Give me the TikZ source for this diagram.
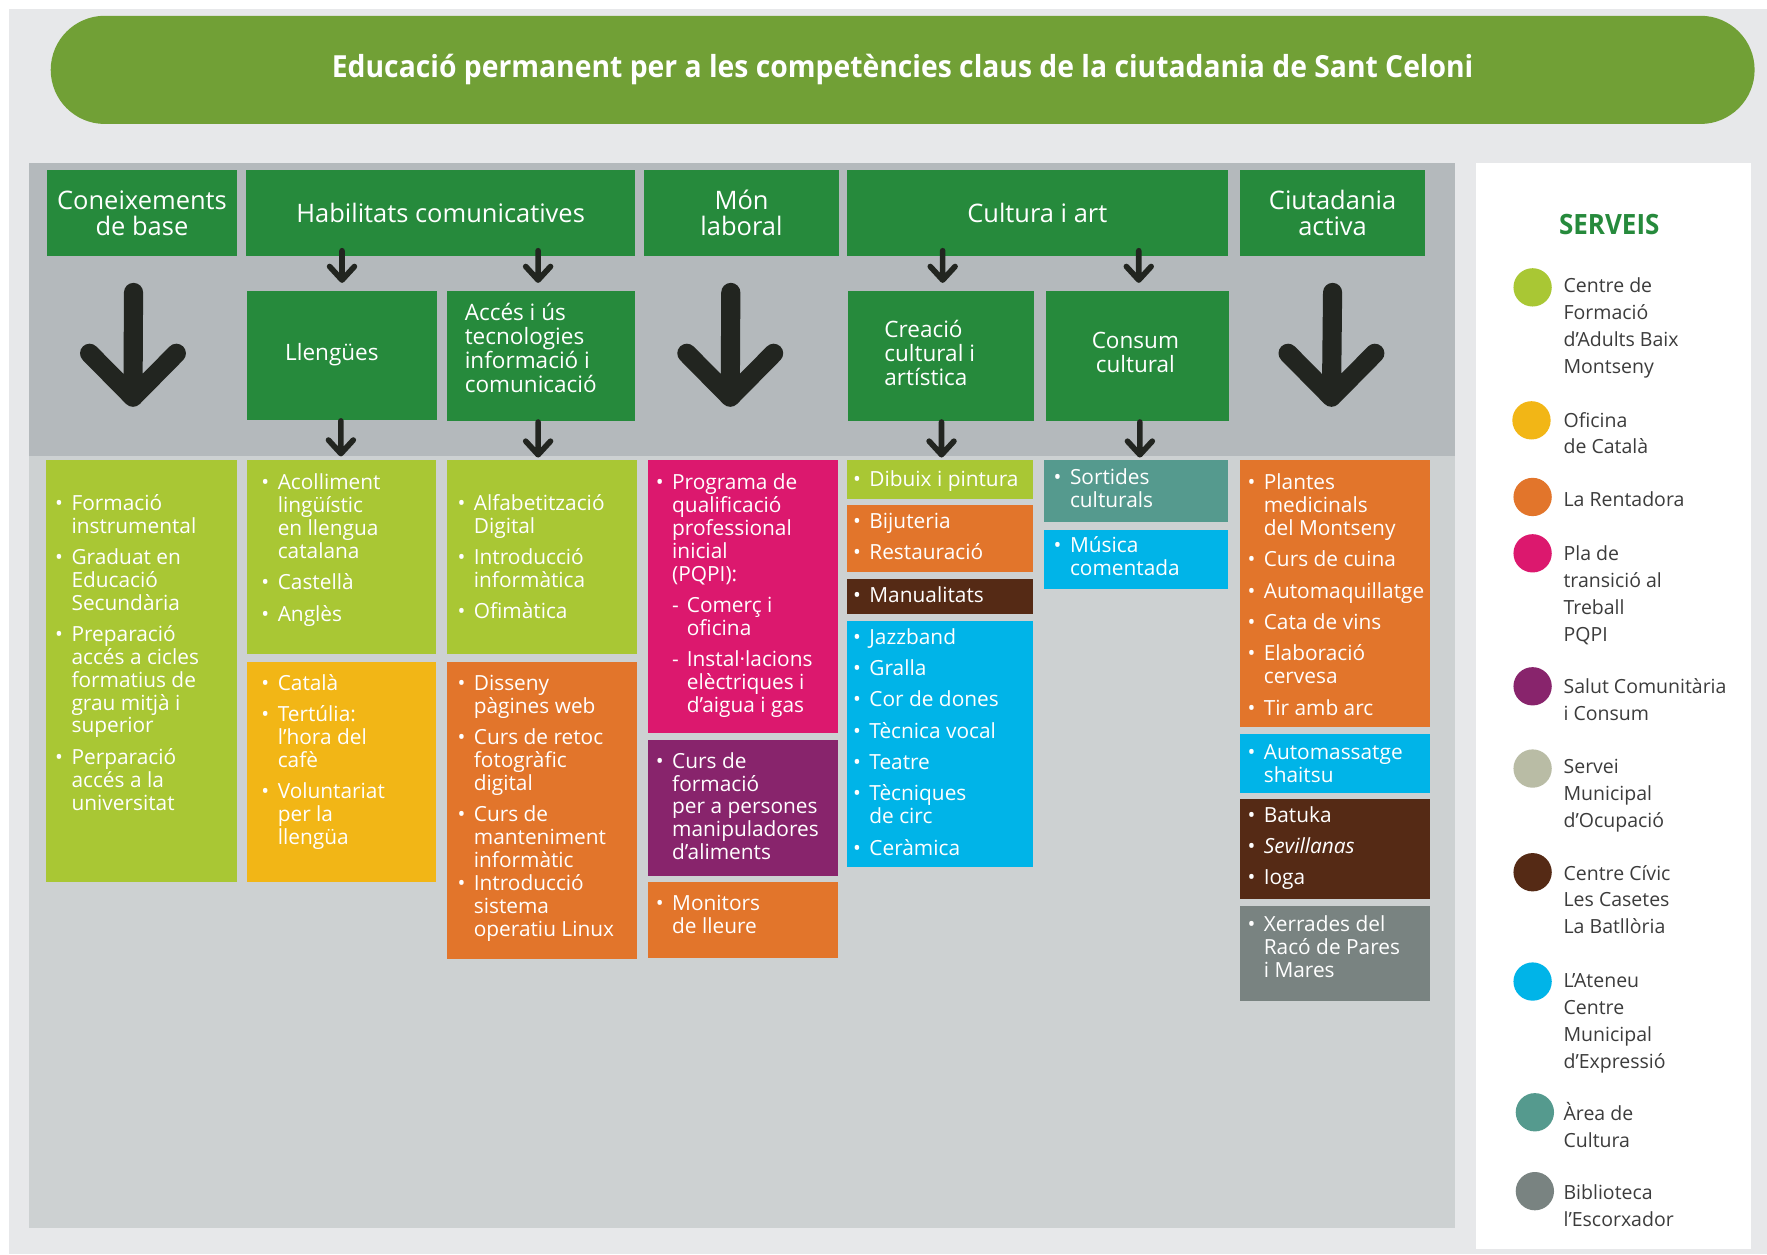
\documentclass[tikz,border=0pt]{standalone}
\usepackage{fontspec}
\setmainfont{Open Sans}
\newfontfamily\ttlfont[FakeStretch=0.93]{Open Sans}
\usetikzlibrary{calc}

\definecolor{bgpage}{HTML}{E7E8EA}
\definecolor{ttlgreen}{HTML}{71A036}
\definecolor{panelA}{HTML}{B4B9BC}
\definecolor{panelB}{HTML}{CDD1D2}
\definecolor{hdrgreen}{HTML}{268A3C}
\definecolor{arrowdark}{HTML}{222520}
\definecolor{clime}{HTML}{A9C734}
\definecolor{cyellow}{HTML}{F2B616}
\definecolor{corange}{HTML}{E2752B}
\definecolor{cpink}{HTML}{DC186E}
\definecolor{cpurple}{HTML}{88246C}
\definecolor{cbrown}{HTML}{552A15}
\definecolor{ccyan}{HTML}{00B4E8}
\definecolor{cteal}{HTML}{559A8E}
\definecolor{cgrey}{HTML}{798381}
\definecolor{csoc}{HTML}{B9BCA5}
\definecolor{legtext}{HTML}{3C3C3C}

\newcommand{\bu}{\makebox[14.5pt][l]{\textbullet}}
\newcommand{\ind}{\hspace*{14.5pt}}

\tikzset{every picture/.style={line width=1pt}}
\tikzset{
  hdr/.style={fill=hdrgreen, text=white, inner sep=0pt, anchor=north west, align=center, font=\fontsize{22.6}{23}\selectfont},
  subhdr/.style={fill=hdrgreen, text=white, inner sep=0pt, anchor=north west, font=\fontsize{20}{20.3}\selectfont},
  items/.style={text=white, inner sep=0pt, anchor=north west, font=\fontsize{18.5}{20.3}\selectfont},
  legend/.style={text=legtext, inner sep=0pt, anchor=north west, font=\fontsize{17.3}{23.8}\selectfont},
  dot/.style={circle, inner sep=0pt, minimum size=34pt},
  bigarrow/.style={draw=arrowdark, line width=17pt, line cap=round, line join=round},
  smallarrow/.style={draw=arrowdark, line width=5pt, line cap=round, line join=round}
}

\begin{document}
\begin{tikzpicture}[x=1pt,y=1pt,yscale=-1]
\useasboundingbox (0,0) rectangle (1568,1113);

%Shape: Rectangle (page)
\fill[white] (0,0) rectangle (1568,1113);
\fill[bgpage] (8,8) rectangle (1568,1113);

% Title banner
\node[fill=ttlgreen, rounded corners=48pt, minimum width=1512pt, minimum height=96pt, inner sep=0pt, text=white, font=\ttlfont\bfseries\fontsize{27}{29}\selectfont] (ttl) at (801,62) {Educació permanent per a les competències claus de la ciutadania de Sant Celoni};

%Shape: Rectangle (panels)
\fill[panelA] (26,145) rectangle (1291,405);
\fill[panelB] (26,405) rectangle (1291,1090);
\fill[white] (1310,145) rectangle (1554,1108);

% Headers
\node[hdr, minimum width=169, minimum height=77] (coneix) at (41,150) {Coneixements\\de base};
\node[hdr, minimum width=345, minimum height=77] (hab) at (218,150) {Habilitats comunicatives};
\node[hdr, minimum width=173, minimum height=77] (mon) at (571,150) {Món\\laboral};
\node[hdr, minimum width=338, minimum height=77] (cult) at (751,150) {Cultura i art};
\node[hdr, minimum width=164, minimum height=77] (ciut) at (1100,150) {Ciutadania\\activa};

% Sub headers
\node[subhdr, minimum width=168, minimum height=114] (lleng) at (219,258) {\begin{tabular}{@{}l@{\hspace{18pt}}}Llengües\end{tabular}};
\node[subhdr, minimum width=167, minimum height=115] (acces) at (396,258) {\begin{tabular}{@{}l@{\hspace{18pt}}}Accés i ús\\tecnologies\\informació i\\comunicació\\[8pt]\end{tabular}};
\node[subhdr, minimum width=165, minimum height=115] (creac) at (752,258) {\begin{tabular}{@{}l@{\hspace{20pt}}}Creació\\cultural i\\artística\end{tabular}};
\node[subhdr, minimum width=162, minimum height=115] (consum) at (928,258) {\begin{tabular}{@{}c@{\hspace{4pt}}}Consum\\cultural\end{tabular}};

% Big arrows
\coordinate (ba1) at (118,352.5);
\draw[bigarrow] ($(coneix.south)+(-7.5,31.5)$) -- (ba1) ++(-38.5,-39) -- (ba1) -- ++(38.5,-39);
\coordinate (ba2) at (648,352.5);
\draw[bigarrow] ($(mon.south)+(-9.5,31.5)$) -- (ba2) ++(-38.5,-39) -- (ba2) -- ++(38.5,-39);
\coordinate (ba3) at (1181.5,352.5);
\draw[bigarrow] ($(ciut.south)+(0,31.5)$) -- (ba3) ++(-38.5,-39) -- (ba3) -- ++(38.5,-39);

% Small arrows
\draw[smallarrow] ($(lleng.north |- hab.south)+(0,-5.5)$) -- ($(lleng.north)+(0,-9.5)$) coordinate (sa1) ++(-11,-12) -- (sa1) -- ++(11,-12);
\draw[smallarrow] ($(acces.north |- hab.south)+(-2.5,-5.5)$) -- ($(acces.north)+(-2.5,-9.5)$) coordinate (sa2) ++(-11,-12) -- (sa2) -- ++(11,-12);
\draw[smallarrow] ($(creac.north |- cult.south)+(1.5,-5.5)$) -- ($(creac.north)+(1.5,-9.5)$) coordinate (sa3) ++(-11,-12) -- (sa3) -- ++(11,-12);
\draw[smallarrow] ($(consum.north |- cult.south)+(1,-5.5)$) -- ($(consum.north)+(1,-9.5)$) coordinate (sa4) ++(-11,-12) -- (sa4) -- ++(11,-12);
\draw[smallarrow] ($(lleng.south)+(-1,0.5)$) -- ($(lleng.south)+(-1,29.5)$) coordinate (sa5) ++(-11,-12) -- (sa5) -- ++(11,-12);
\draw[smallarrow] ($(acces.south)+(-2.5,0.5)$) -- ($(acces.south)+(-2.5,29.5)$) coordinate (sa6) ++(-11,-12) -- (sa6) -- ++(11,-12);
\draw[smallarrow] ($(creac.south)+(0.5,0.5)$) -- ($(creac.south)+(0.5,29.5)$) coordinate (sa7) ++(-11,-12) -- (sa7) -- ++(11,-12);
\draw[smallarrow] ($(consum.south)+(2,0.5)$) -- ($(consum.south)+(2,29.5)$) coordinate (sa8) ++(-11,-12) -- (sa8) -- ++(11,-12);

%Shape: Rectangle (column 1)
\fill[clime] (41,408) rectangle (210,783);
% Text Node
\node[items] (tformac) at (48.5,438) {\begin{tabular}{@{}l@{}}
\bu Formació\\ \ind instrumental\\[7.5pt]
\bu Graduat en\\ \ind Educació\\ \ind Secundària\\[7.5pt]
\bu Preparació\\ \ind accés a cicles\\ \ind formatius de\\ \ind grau mitjà i\\ \ind superior\\[7.5pt]
\bu Perparació\\ \ind accés a la\\ \ind universitat
\end{tabular}};

%Shape: Rectangle (column 2)
\fill[clime] (219,408) rectangle (387,580);
\fill[cyellow] (219,587) rectangle (387,783);
% Text Node
\node[items] (tacoll) at (231.5,420) {\begin{tabular}{@{}l@{}}
\bu Acolliment\\ \ind lingüístic\\ \ind en llengua\\ \ind catalana\\[7.5pt]
\bu Castellà\\[7.5pt]
\bu Anglès
\end{tabular}};
% Text Node
\node[items] (tcatala) at (231.5,598) {\begin{tabular}{@{}l@{}}
\bu Català\\[7.5pt]
\bu Tertúlia:\\ \ind l’hora del\\ \ind cafè\\[7.5pt]
\bu Voluntariat\\ \ind per la\\ \ind llengüa
\end{tabular}};

%Shape: Rectangle (column 3)
\fill[clime] (397,408) rectangle (565,580);
\fill[corange] (397,587) rectangle (565,851);
% Text Node
\node[items] (talfab) at (405.5,438) {\begin{tabular}{@{}l@{}}
\bu Alfabetització\\ \ind Digital\\[7.5pt]
\bu Introducció\\ \ind informàtica\\[7.5pt]
\bu Ofimàtica
\end{tabular}};
% Text Node
\node[items] (tdisseny) at (405.5,598) {\begin{tabular}{@{}l@{}}
\bu Disseny\\ \ind pàgines web\\[7.5pt]
\bu Curs de retoc\\ \ind fotogràfic\\ \ind digital\\[7.5pt]
\bu Curs de\\ \ind manteniment\\ \ind informàtic\\
\bu Introducció\\ \ind sistema\\ \ind operatiu Linux
\end{tabular}};

%Shape: Rectangle (column 4)
\fill[cpink] (575,408) rectangle (744,650);
\fill[cpurple] (575,657) rectangle (744,777);
\fill[corange] (575,783) rectangle (744,850);
% Text Node
\node[items] (tpqpi) at (581.5,420) {\begin{tabular}{@{}l@{}}
\bu Programa de\\ \ind qualificació\\ \ind professional\\ \ind inicial\\ \ind (PQPI):\\[7.5pt]
\ind\makebox[13pt][l]{-}Comerç i\\ \ind\hspace*{13pt}oficina\\[7.5pt]
\ind\makebox[13pt][l]{-}Instal·lacions\\ \ind\hspace*{13pt}elèctriques i\\ \ind\hspace*{13pt}d’aigua i gas
\end{tabular}};
% Text Node
\node[items] (tcurs) at (581.5,667) {\begin{tabular}{@{}l@{}}
\bu Curs de\\ \ind formació\\ \ind per a persones\\ \ind manipuladores\\ \ind d’aliments
\end{tabular}};
% Text Node
\node[items] (tmonit) at (581.5,793) {\begin{tabular}{@{}l@{}}
\bu Monitors\\ \ind de lleure
\end{tabular}};

%Shape: Rectangle (column 5)
\fill[clime] (752,408) rectangle (917,443);
\fill[corange] (752,448) rectangle (917,508);
\fill[cbrown] (752,514) rectangle (917,545);
\fill[ccyan] (752,551) rectangle (917,769);
% Text Node
\node[items] (tdibuix) at (756.5,417) {\begin{tabular}{@{}l@{}}
\bu Dibuix i pintura
\end{tabular}};
% Text Node
\node[items] (tbiju) at (756.5,454) {\begin{tabular}{@{}l@{}}
\bu Bijuteria\\[7.5pt]
\bu Restauració
\end{tabular}};
% Text Node
\node[items] (tmanual) at (756.5,520) {\begin{tabular}{@{}l@{}}
\bu Manualitats
\end{tabular}};
% Text Node
\node[items] (tjazz) at (756.5,557) {\begin{tabular}{@{}l@{}}
\bu Jazzband\\[7.5pt]
\bu Gralla\\[7.5pt]
\bu Cor de dones\\[7.5pt]
\bu Tècnica vocal\\[7.5pt]
\bu Teatre\\[7.5pt]
\bu Tècniques\\ \ind de circ\\[7.5pt]
\bu Ceràmica
\end{tabular}};

%Shape: Rectangle (column 6)
\fill[cteal] (926,408) rectangle (1090,463);
\fill[ccyan] (926,470) rectangle (1090,523);
% Text Node
\node[items] (tsort) at (934.5,415) {\begin{tabular}{@{}l@{}}
\bu Sortides\\ \ind culturals
\end{tabular}};
% Text Node
\node[items] (tmusica) at (934.5,476) {\begin{tabular}{@{}l@{}}
\bu Música\\ \ind comentada
\end{tabular}};

%Shape: Rectangle (column 7)
\fill[corange] (1100,408) rectangle (1269,645);
\fill[ccyan] (1100,651) rectangle (1269,704);
\fill[cbrown] (1100,709) rectangle (1269,798);
\fill[cgrey] (1100,804) rectangle (1269,888);
% Text Node
\node[items] (tplant) at (1106.5,420) {\begin{tabular}{@{}l@{}}
\bu Plantes\\ \ind medicinals\\ \ind del Montseny\\[7.5pt]
\bu Curs de cuina\\[7.5pt]
\bu Automaquillatge\\[7.5pt]
\bu Cata de vins\\[7.5pt]
\bu Elaboració\\ \ind cervesa\\[7.5pt]
\bu Tir amb arc
\end{tabular}};
% Text Node
\node[items] (tautom) at (1106.5,659) {\begin{tabular}{@{}l@{}}
\bu Automassatge\\ \ind shaitsu
\end{tabular}};
% Text Node
\node[items] (tbatuka) at (1106.5,715) {\begin{tabular}{@{}l@{}}
\bu Batuka\\[7.5pt]
\bu \textit{Sevillanas}\\[7.5pt]
\bu Ioga
\end{tabular}};
% Text Node
\node[items] (txerr) at (1106.5,812) {\begin{tabular}{@{}l@{}}
\bu Xerrades del\\ \ind Racó de Pares\\ \ind i Mares
\end{tabular}};

% Legend
\node[text=hdrgreen, inner sep=0pt, font=\ttlfont\bfseries\fontsize{24.8}{26}\selectfont] (serv) at (1428,199) {SERVEIS};
\node[dot, fill=clime] (lg1) at (1360,255) {};
\node[legend] (lt1) at (1387,242.8) {\begin{tabular}{@{}l@{}}Centre de\\Formació\\d’Adults Baix\\Montseny\end{tabular}};
\node[dot, fill=cyellow] (lg2) at (1359,373) {};
\node[legend] (lt2) at (1387,361.8) {\begin{tabular}{@{}l@{}}Oficina\\de Català\end{tabular}};
\node[dot, fill=corange] (lg3) at (1360,441) {};
\node[legend] (lt3) at (1387,432.3) {\begin{tabular}{@{}l@{}}La Rentadora\end{tabular}};
\node[dot, fill=cpink] (lg4) at (1360,491) {};
\node[legend] (lt4) at (1387,480.3) {\begin{tabular}{@{}l@{}}Pla de\\transició al\\Treball\\PQPI\end{tabular}};
\node[dot, fill=cpurple] (lg5) at (1360,609) {};
\node[legend] (lt5) at (1387,598.3) {\begin{tabular}{@{}l@{}}Salut Comunitària\\i Consum\end{tabular}};
\node[dot, fill=csoc] (lg6) at (1360,682) {};
\node[legend] (lt6) at (1387,669.3) {\begin{tabular}{@{}l@{}}Servei\\Municipal\\d’Ocupació\end{tabular}};
\node[dot, fill=cbrown] (lg7) at (1360,774) {};
\node[legend] (lt7) at (1387,763.8) {\begin{tabular}{@{}l@{}}Centre Cívic\\Les Casetes\\La Batllòria\end{tabular}};
\node[dot, fill=ccyan] (lg8) at (1360,871) {};
\node[legend] (lt8) at (1387,859.3) {\begin{tabular}{@{}l@{}}L’Ateneu\\Centre\\Municipal\\d’Expressió\end{tabular}};
\node[dot, fill=cteal] (lg9) at (1362,987) {};
\node[legend] (lt9) at (1387,977.3) {\begin{tabular}{@{}l@{}}Àrea de\\Cultura\end{tabular}};
\node[dot, fill=cgrey] (lg10) at (1362,1057) {};
\node[legend] (lt10) at (1387,1047.3) {\begin{tabular}{@{}l@{}}Biblioteca\\l’Escorxador\end{tabular}};

\end{tikzpicture}
\end{document}
